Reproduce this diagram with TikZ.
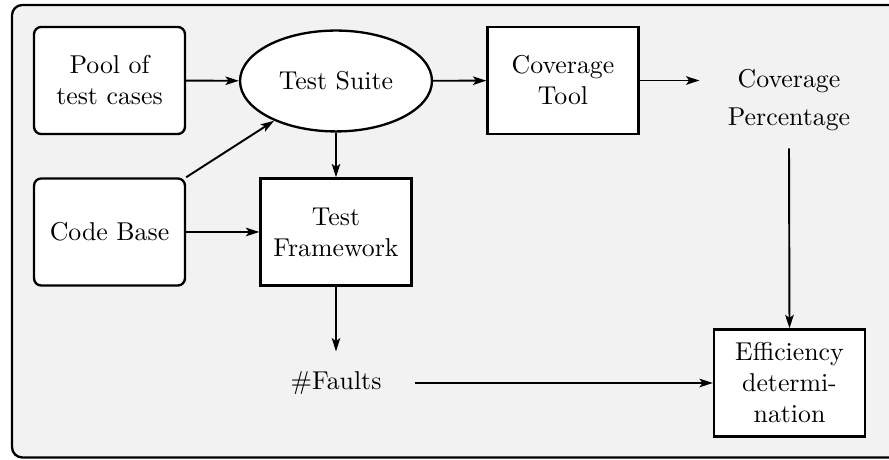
\documentclass[tikz,border=0pt]{standalone}
\usetikzlibrary{shapes.geometric,arrows.meta}
\begin{document}
\begin{tikzpicture}[x=0.38759pt,y=-0.38759pt,
  box/.style={draw=black,line width=0.9pt,fill=white,minimum width=58.5pt,minimum height=41.5pt,text width=1.8cm,align=center,inner sep=3pt},
  rbox/.style={box,rounded corners=2.8pt},
  oval/.style={ellipse,draw=black,line width=0.9pt,fill=white,minimum width=74.4pt,minimum height=39.1pt,inner sep=0pt},
  plain/.style={inner sep=0pt,align=center},
  conn/.style={line width=0.75pt,-{Stealth[length=5.2pt,width=3.3pt,inset=1.2pt]}}]
\useasboundingbox (0,0) rectangle (889,460);
\begin{scope}
\clip (0,0) rectangle (889,460);
\draw[line width=0.9pt,fill=gray!10,rounded corners=4pt] (12,5) rectangle (905,457.5);
\end{scope}
\node[rbox] (pool) at (109.5,80.5) {Pool of test cases};
\node[oval] (suite) at (336,81) {Test Suite};
\node[box] (tool) at (563,80.5) {Coverage Tool};
\node[plain,minimum width=69pt,minimum height=37.2pt] (cp) at (789,100) {Coverage\\[2.5pt]Percentage};
\node[rbox] (code) at (109.5,232) {Code Base};
\node[box] (fw) at (336,232) {Test Framework};
\node[plain,minimum width=61.2pt,minimum height=24pt] (faults) at (336,383) {\#Faults};
\node[box] (eff) at (789.5,383) {Efficiency determination};
\draw[conn] (pool) -- (suite);
\draw[conn] (suite) -- (tool);
\draw[conn] (tool.east) -- (tool.east -| cp.west);
\draw[conn] (code.north east) -- (suite);
\draw[conn] (code) -- (fw);
\draw[conn] (suite) -- (fw);
\draw[conn] (fw) -- (faults);
\draw[conn] (faults) -- (eff);
\draw[conn] (cp.south) -- (eff.north);
\end{tikzpicture}
\end{document}
